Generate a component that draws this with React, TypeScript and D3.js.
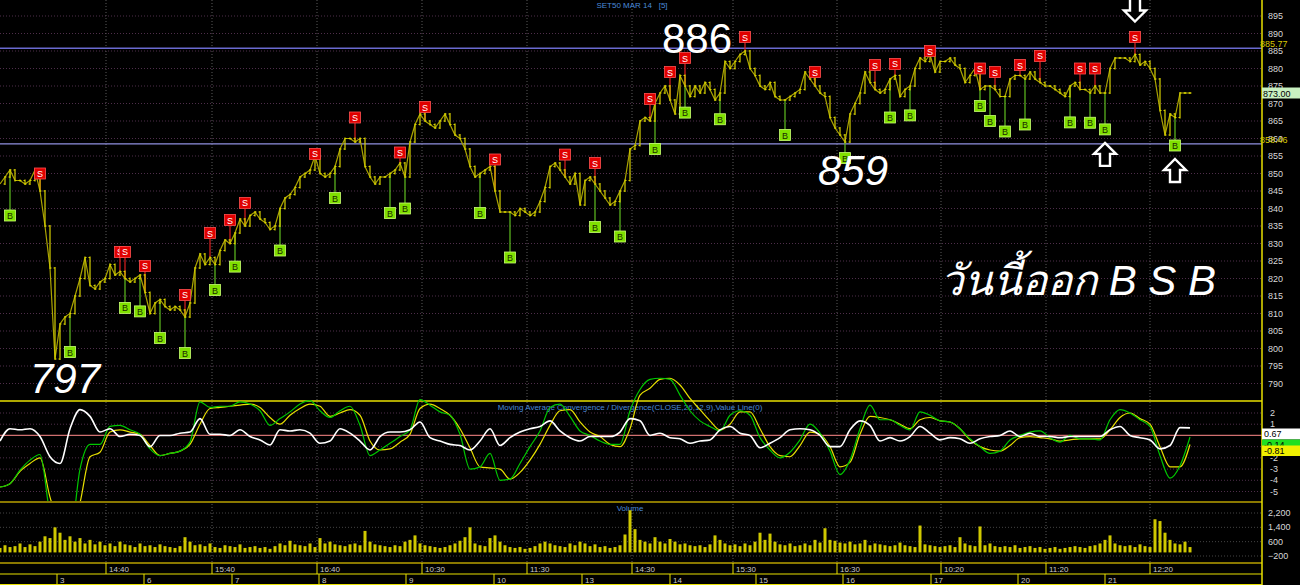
import * as d3 from 'd3'

// 5-minute closes of SET50 MAR 14
const closes = [
  847, 849, 851, 848, 848, 847, 848, 851, 845, 835,
  823, 797, 807, 809, 810, 815, 820, 826, 818, 817,
  819, 820, 824, 821, 822, 820, 819, 820, 821, 816,
  810, 813, 814, 812, 811, 812, 811, 809, 813, 823,
  827, 824, 826, 824, 828, 831, 830, 833, 837, 835,
  838, 839, 837, 836, 834, 835, 840, 843, 844, 846,
  849, 850, 851, 855, 850, 849, 850, 852, 857, 860,
  860, 859, 860, 852, 849, 847, 849, 849, 850, 851,
  853, 849, 859, 864, 867, 865, 864, 863, 865, 867,
  864, 861, 860, 857, 852, 849, 850, 851, 852, 845,
  839, 839, 839, 838, 840, 839, 838, 839, 842, 846,
  852, 853, 851, 849, 847, 850, 841, 848, 849, 847,
  845, 843, 841, 842, 845, 848, 857, 858, 865, 866,
  865, 870, 873, 875, 871, 867, 878, 875, 872, 875,
  873, 876, 874, 871, 873, 882, 880, 882, 884, 885,
  880, 878, 875, 874, 876, 872, 871, 871, 872, 873,
  874, 879, 877, 875, 873, 872, 866, 863, 861, 859,
  867, 870, 873, 879, 876, 874, 873, 874, 877, 878,
  872, 874, 875, 880, 883, 882, 884, 879, 882, 882,
  883, 881, 880, 876, 878, 880, 874, 875, 875, 874,
  872, 872, 877, 878, 878, 877, 879, 877, 876, 875,
  875, 874, 873, 872, 875, 876, 874, 874, 873, 875,
  873, 873, 880, 883, 883, 883, 882, 884, 881, 882,
  880, 877, 868, 861, 867, 866, 873, 873, 873,
]

const volumes = [
  250, 400, 300, 350, 500, 300, 450, 350, 600, 900,
  800, 1400, 1100, 700, 900, 600, 800, 500, 700, 450,
  600, 400, 500, 350, 600, 450, 400, 300, 500, 350,
  400, 300, 450, 350, 300, 250, 350, 850, 600, 400,
  450, 350, 500, 300, 250, 400, 350, 300, 450, 250,
  300, 350, 250, 300, 200, 350, 500, 400, 650, 450,
  400, 350, 500, 300, 800, 500, 600, 450, 400, 350,
  450, 500, 400, 1200, 600, 450, 400, 350, 300, 400,
  350, 600, 700, 950, 500, 400, 350, 300, 250, 300,
  400, 500, 650, 850, 1400, 500, 400, 350, 800, 950,
  600, 400, 300, 250, 300, 200, 250, 350, 500, 600,
  500, 400, 350, 300, 500, 400, 600, 500, 350, 450,
  300, 350, 250, 300, 400, 1000, 2350, 1300, 700, 600,
  500, 850, 600, 500, 750, 600, 450, 500, 400, 350,
  400, 300, 450, 950, 700, 500, 400, 450, 350, 500,
  400, 600, 1100, 700, 1050, 600, 450, 400, 500, 350,
  400, 500, 400, 700, 550, 1350, 700, 650, 550, 500,
  600, 450, 500, 700, 400, 500, 450, 400, 350, 400,
  550, 400, 350, 300, 1500, 450, 400, 350, 300, 350,
  400, 300, 850, 500, 400, 350, 1450, 400, 500, 350,
  300, 350, 300, 400, 250, 300, 350, 250, 300, 200,
  250, 300, 200, 250, 300, 350, 300, 250, 350, 400,
  500, 700, 950, 500, 400, 350, 400, 300, 450, 350,
  300, 1850, 1750, 1100, 700, 500, 450, 600, 300,
]

// MACD(26,12,9) sampled every second bar
const macdLine = [
  -4.6, -4.3, -3.1, -2.2, -1.7, -7, -9, -9, -3.0, -0.8,
  -0.8, 0.8, 0.9, 0.5, 0.1, -1.2, -1.8, -1.6, -1.4, -0.6,
  3.0, 2.5, 2.6, 2.6, 3.0, 2.8, 2.2, 0.9, 1.5, 2.1,
  2.8, 3.1, 2.2, 1.6, 2.2, 2.6, 0.9, -1.8, -1.3, -0.7,
  -0.1, 0.5, 3.2, 2.7, 2.1, 1.8, 0.1, -3.0, -2.8, -1.6,
  -4.0, -3.9, -2.5, -1.0, 0.4, 2.5, 2.8, 1.7, 0.4, 0.0,
  -0.5, -0.8, -0.8, 2.2, 4.1, 5.0, 5.1, 5.0, 3.6, 2.2,
  1.3, 0.8, 0.4, 1.8, 2.2, 1.8, -0.2, -1.3, -2.0, -1.5,
  -0.4, 1.0, 0.2, -1.4, -3.5, -2.2, 0.6, 2.7, 1.4, 1.4,
  0.9, 0.5, 2.1, 1.8, 1.3, 1.2, 0.6, -0.3, -1.0, -1.6,
  -1.4, -0.4, 0.0, 0.3, 0.4, -0.2, -0.6, 0.0, -0.3, -0.3,
  -0.4, 1.4, 2.3, 2.0, 1.4, 0.8, -1.8, -3.8, -2.7, -0.14,
]

const signalLine = [
  -4.6, -4.3, -3.2, -2.5, -2.0, -5.5, -8, -9, -6, -1.9,
  -1.5, 0.3, 0.5, 0.3, 0.1, -0.9, -1.8, -1.6, -1.4, -0.8,
  1.0, 2.4, 2.5, 2.6, 2.7, 2.8, 2.5, 1.6, 1.0, 1.8,
  2.4, 2.8, 2.6, 1.7, 2.0, 2.3, 1.8, -0.5, -1.3, -1.2,
  -0.6, 0.1, 2.4, 2.8, 2.4, 1.8, 0.6, -1.1, -2.8, -2.9,
  -3.0, -3.9, -3.3, -2.2, -0.8, 0.9, 2.2, 2.3, 1.2, 0.3,
  -0.1, -0.8, -1.0, 0.6, 3.6, 4.2, 5.0, 5.1, 4.5, 3.3,
  2.3, 1.3, 0.5, 1.0, 2.1, 2.1, 0.6, -1.0, -1.8, -1.9,
  -0.9, 0.3, 0.1, -1.0, -2.8, -2.4, 0.1, 1.7, 1.6, 1.4,
  1.0, 0.6, 1.4, 1.6, 1.3, 1.2, 0.6, -0.4, -1.0, -1.3,
  -1.4, -0.9, -0.2, -0.1, -0.2, -0.3, -0.5, -0.4, -0.3, -0.3,
  -0.3, 0.5, 1.6, 2.0, 1.5, 1.0, -1.0, -2.8, -2.8, -0.81,
]

const histLine = [
  -0.5, 0.6, 0.5, 0.6, -0.1, -1.9, -2.5, 0.6, 2.3, 1.7,
  0.3, 0.6, -0.1, 0.1, 0.0, -1.0, 0.0, 0.0, 0.2, 0.3,
  1.5, 0.1, 0.1, 0.0, 0.5, -0.1, -0.4, -0.85, 0.5, 0.4,
  0.5, 0.2, -0.7, -0.5, 0.6, 0.2, -0.5, -1.3, -0.1, 0.3,
  0.3, 0.5, 1.2, -0.2, -0.5, -0.8, -0.9, -1.3, -0.5, 0.6,
  -0.9, -0.2, 0.3, 0.6, 0.8, 1.3, 0.4, -0.2, -0.5, -0.1,
  -0.1, -0.1, 0.3, 1.5, 1.3, 0.0, 0.2, -0.2, -0.3, -0.7,
  -0.5, -0.4, 0.5, 0.8, 0.2, 0.0, -1.1, -0.7, -0.2, 0.5,
  0.6, 0.5, 0.0, -1.0, -1.0, 0.5, 1.3, 0.9, -0.5, -0.2,
  -0.5, -0.1, 0.8, 0.2, -0.4, -0.2, -0.3, -0.7, -0.3, -0.1,
  0.0, 0.4, -0.1, 0.2, -0.1, -0.1, -0.2, -0.1, -0.1, -0.1,
  -0.1, 0.5, 0.8, 0.0, -0.2, -0.4, -1.2, -0.9, 0.7, 0.67,
]

// signal flags: bar index and the price level of the flag
const sellSignals = [
  { i: 8, v: 850 }, { i: 24, v: 827.6 }, { i: 25, v: 827.6 }, { i: 29, v: 823.6 },
  { i: 37, v: 815.3 }, { i: 42, v: 833 }, { i: 46, v: 836.7 }, { i: 49, v: 841.6 },
  { i: 63, v: 855.6 }, { i: 71, v: 866 }, { i: 80, v: 856 }, { i: 85, v: 869 },
  { i: 99, v: 854 }, { i: 113, v: 855.4 }, { i: 119, v: 853 }, { i: 130, v: 871.3 },
  { i: 134, v: 879 }, { i: 137, v: 883 }, { i: 149, v: 889 }, { i: 163, v: 879 },
  { i: 175, v: 881 }, { i: 179, v: 881.3 }, { i: 186, v: 885 }, { i: 196, v: 880 },
  { i: 199, v: 879 }, { i: 204, v: 881 }, { i: 208, v: 883.6 }, { i: 216, v: 880 },
  { i: 219, v: 880 }, { i: 227, v: 889 },
]

const buySignals = [
  { i: 2, v: 838 }, { i: 14, v: 799 }, { i: 25, v: 811.6 }, { i: 28, v: 810.6 },
  { i: 32, v: 803 }, { i: 37, v: 798.7 }, { i: 43, v: 816.7 }, { i: 47, v: 823.4 },
  { i: 56, v: 828 }, { i: 67, v: 843 }, { i: 78, v: 838.7 }, { i: 81, v: 840 },
  { i: 96, v: 838.7 }, { i: 102, v: 826 }, { i: 119, v: 834.7 }, { i: 124, v: 832 },
  { i: 131, v: 857 }, { i: 137, v: 867.4 }, { i: 144, v: 865.5 }, { i: 157, v: 861 },
  { i: 169, v: 854.4 }, { i: 178, v: 866 }, { i: 182, v: 866.6 }, { i: 196, v: 869.3 },
  { i: 198, v: 865 }, { i: 201, v: 862 }, { i: 205, v: 864 }, { i: 214, v: 864.6 },
  { i: 218, v: 864.5 }, { i: 221, v: 862.6 }, { i: 235, v: 858 },
]

const arrowMarks = [
  { i: 227, v: 889, dir: 'down' },
  { i: 221, v: 862.6, dir: 'up' },
  { i: 235, v: 858, dir: 'up' },
]

const timeTicks = [
  { label: '14:40', i: 21.2 }, { label: '15:40', i: 42.4 }, { label: '16:40', i: 63.4 },
  { label: '10:30', i: 84.4 }, { label: '11:30', i: 105.4 }, { label: '14:30', i: 126.4 },
  { label: '15:30', i: 146.6 }, { label: '16:30', i: 167.4 }, { label: '10:20', i: 188.2 },
  { label: '11:20', i: 209.2 }, { label: '12:20', i: 230 },
]

const dayTicks = [
  { label: '3', i: 11.4 }, { label: '6', i: 28.8 }, { label: '7', i: 46.4 },
  { label: '8', i: 63.8 }, { label: '9', i: 81.2 }, { label: '10', i: 98.8 },
  { label: '13', i: 116.4 }, { label: '14', i: 134 }, { label: '15', i: 151.2 },
  { label: '16', i: 168.6 }, { label: '17', i: 186.2 }, { label: '20', i: 203.6 },
  { label: '21', i: 221 },
]

const priceTicks = d3.range(790, 896, 5)
const macdTicks = [2, 1, 0, -1, -2, -3, -4, -5]
const volumeTicks = [2200, 1400, 600, -200]

const resistance = 885.77
const support = 858.46
const lastPrice = 873.0
const notes = [
  { text: '886', i: 132.4, v: 884.4, italic: false },
  { text: '859', i: 163.6, v: 846.8, italic: true },
  { text: '797', i: 6, v: 787.4, italic: true },
]

const W = 1300
const H = 585
const AXIS_X = 1262
const FONT = '"Liberation Sans", Arial, sans-serif'

export default function App() {
  const x = d3.scaleLinear().domain([0, AXIS_X / 5]).range([0, AXIS_X])
  const yP = d3.scaleLinear().domain([790, 895]).range([383.5, 16])
  const yM = d3.scaleLinear().domain([-5, 2]).range([491.5, 413])
  const yV = d3.scaleLinear().domain([-200, 2200]).range([556, 513])

  const mx = (j: number) => x(j * 2)
  const line = (arr: number[]) =>
    d3.line<number>().x((_, j) => mx(j)).y(d => yM(d)).curve(d3.curveMonotoneX)(arr) || ''

  const priceLine = d3.line<number>().x((_, i) => x(i)).y(d => yP(d))(closes) || ''

  const BOX = 11
  const gridColor = '#4e2e4a'

  const arrowPath = (cx: number, tipY: number, dir: string) => {
    const s = dir === 'up' ? 1 : -1
    const pts = [
      [cx, tipY], [cx + 11, tipY + 11 * s], [cx + 5, tipY + 11 * s], [cx + 5, tipY + 23 * s],
      [cx - 5, tipY + 23 * s], [cx - 5, tipY + 11 * s], [cx - 11, tipY + 11 * s],
    ]
    return 'M' + pts.map(p => p.join(',')).join('L') + 'Z'
  }

  return (
    <svg width={W} height={H} style={{ position: 'absolute', left: 0, top: 0, background: '#000', fontFamily: FONT }}>
      <defs>
        <clipPath id="macdClip">
          <rect x={0} y={0} width={AXIS_X} height={502} />
        </clipPath>
      </defs>
      <rect x={0} y={0} width={W} height={H} fill="#000" />

      {/* horizontal grid - price */}
      {priceTicks.map(t => (
        <line key={'pg' + t} x1={0} x2={AXIS_X} y1={yP(t)} y2={yP(t)} stroke={gridColor} strokeDasharray="1,2" />
      ))}
      {macdTicks.filter(t => t !== 0).map(t => (
        <line key={'mg' + t} x1={0} x2={AXIS_X} y1={yM(t)} y2={yM(t)} stroke={gridColor} strokeDasharray="1,2" />
      ))}
      {volumeTicks.map(t => (
        <line key={'vg' + t} x1={0} x2={AXIS_X} y1={yV(t)} y2={yV(t)} stroke="#444" strokeDasharray="1,2" />
      ))}
      {/* vertical grid */}
      {timeTicks.map(t => (
        <line key={'vt' + t.label} x1={x(t.i)} x2={x(t.i)} y1={0} y2={563} stroke="#5a5a5a" strokeDasharray="1,2" />
      ))}

      {/* support / resistance */}
      <line x1={0} x2={AXIS_X} y1={yP(resistance)} y2={yP(resistance)} stroke="#6a6ad0" strokeWidth={1.5} />
      <line x1={0} x2={AXIS_X} y1={yP(support)} y2={yP(support)} stroke="#9090e0" strokeWidth={1.2} />

      <text x={632} y={8} fill="#4a8ad8" fontSize={8} textAnchor="middle" style={{ whiteSpace: 'pre' }}>
        {'SET50 MAR 14   [5]'}
      </text>

      {/* stems */}
      {sellSignals.map((s, k) => {
        const top = yP(s.v) + BOX / 2
        const py = yP(closes[s.i])
        return py > top ? (
          <line key={'ss' + k} x1={x(s.i)} x2={x(s.i)} y1={top} y2={py} stroke="#e02020" strokeWidth={1.2} />
        ) : null
      })}
      {buySignals.map((b, k) => {
        const bot = yP(b.v) - BOX / 2
        const py = yP(closes[b.i])
        return py < bot ? (
          <line key={'bs' + k} x1={x(b.i)} x2={x(b.i)} y1={bot} y2={py} stroke="#60c020" strokeWidth={1.2} />
        ) : null
      })}

      {/* price bars */}
      <path d={priceLine} fill="none" stroke="#aaa400" strokeWidth={1.2} />
      {closes.map((c, i) => {
        if (i === 0) return null
        const o = closes[i - 1]
        const cx = x(i)
        return (
          <g key={'b' + i} stroke="#d8d200" strokeWidth={1.2}>
            <line x1={cx} x2={cx} y1={yP(Math.max(o, c)) - 1} y2={yP(Math.min(o, c)) + 1} />
            <line x1={cx - 1.5} x2={cx} y1={yP(o)} y2={yP(o)} />
            <line x1={cx} x2={cx + 1.5} y1={yP(c)} y2={yP(c)} />
          </g>
        )
      })}

      {/* flags */}
      {sellSignals.map((s, k) => (
        <g key={'sf' + k}>
          <rect x={x(s.i) - BOX / 2} y={yP(s.v) - BOX / 2} width={BOX} height={BOX} fill="#e00000" stroke="#ff5050" strokeWidth={0.8} />
          <text x={x(s.i)} y={yP(s.v) + 3.5} fill="#fff" fontSize={9} textAnchor="middle">S</text>
        </g>
      ))}
      {buySignals.map((b, k) => (
        <g key={'bf' + k}>
          <rect x={x(b.i) - BOX / 2} y={yP(b.v) - BOX / 2} width={BOX} height={BOX} fill="#80e000" stroke="#c8ff70" strokeWidth={0.8} />
          <text x={x(b.i)} y={yP(b.v) + 3.5} fill="#1a2a00" fontSize={9} textAnchor="middle">B</text>
        </g>
      ))}

      {/* annotations */}
      {arrowMarks.map((a, k) => {
        const tip = a.dir === 'up' ? yP(a.v) + BOX / 2 + 8 : yP(a.v) - BOX / 2 - 10
        return <path key={'ar' + k} d={arrowPath(x(a.i), tip, a.dir)} fill="#000" stroke="#fff" strokeWidth={2.4} strokeLinejoin="miter" />
      })}
      {notes.map(n => (
        <text key={n.text} x={x(n.i)} y={yP(n.v)} fill="#fff" fontSize={42} fontStyle={n.italic ? 'italic' : 'normal'}>
          {n.text}
        </text>
      ))}
      <text x={940} y={295} fill="#fff" fontSize={42} fontStyle="italic">วันนี้ออก B S B</text>

      {/* MACD panel */}
      <line x1={0} x2={AXIS_X} y1={401} y2={401} stroke="#e8e000" strokeWidth={1.5} />
      <line x1={0} x2={AXIS_X} y1={yM(0)} y2={yM(0)} stroke="#d07070" strokeWidth={1.3} />
      <text x={630} y={410} fill="#4a8ad8" fontSize={8} textAnchor="middle">
        Moving Average Convergence / Divergence(CLOSE,26,12,9),Value Line(0)
      </text>
      <g clipPath="url(#macdClip)" fill="none">
        <path d={line(signalLine)} stroke="#e8e000" strokeWidth={1.2} />
        <path d={line(macdLine)} stroke="#00c800" strokeWidth={1.2} />
        <path d={line(histLine)} stroke="#ffffff" strokeWidth={1.6} />
      </g>

      {/* volume panel */}
      <line x1={0} x2={AXIS_X} y1={502} y2={502} stroke="#8a7800" strokeWidth={2} />
      <text x={630} y={511} fill="#4a8ad8" fontSize={8} textAnchor="middle">Volume</text>
      {volumes.map((v, i) => (
        <rect key={'v' + i} x={x(i) - 1.5} y={yV(v)} width={3} height={yV(0) - yV(v)} fill="#cfc800" />
      ))}

      {/* time axis */}
      <line x1={0} x2={AXIS_X} y1={563} y2={563} stroke="#8a7800" strokeWidth={2} />
      <line x1={0} x2={AXIS_X} y1={574} y2={574} stroke="#e8e000" strokeWidth={1.2} />
      <line x1={0} x2={AXIS_X} y1={584.5} y2={584.5} stroke="#e8e000" strokeWidth={1} />
      {timeTicks.map(t => (
        <g key={'tt' + t.label}>
          <line x1={x(t.i)} x2={x(t.i)} y1={563} y2={574} stroke="#e8e000" />
          <text x={x(t.i) + 3} y={572} fill="#c8c8c8" fontSize={8}>{t.label}</text>
        </g>
      ))}
      {dayTicks.map(t => (
        <g key={'dt' + t.label}>
          <line x1={x(t.i)} x2={x(t.i)} y1={574} y2={585} stroke="#e8e000" />
          <text x={x(t.i) + 3} y={583} fill="#c8c8c8" fontSize={8}>{t.label}</text>
        </g>
      ))}

      {/* right axis */}
      <rect x={AXIS_X} y={0} width={W - AXIS_X} height={H} fill="#000" />
      <line x1={AXIS_X} x2={AXIS_X} y1={0} y2={H} stroke="#e8e000" strokeWidth={1.5} />
      {priceTicks.map(t => (
        <text key={'pl' + t} x={1268} y={yP(t) + 3} fill="#d8d8d8" fontSize={9}>{t}</text>
      ))}
      <text x={1260} y={yP(resistance) - 1} fill="#d8c800" fontSize={9}>{resistance.toFixed(2)}</text>
      <text x={1260} y={yP(support) - 1} fill="#d8c800" fontSize={9}>{support.toFixed(2)}</text>
      <rect x={AXIS_X} y={yP(lastPrice) - 5.5} width={W - AXIS_X} height={11} fill="#c8f0c0" />
      <text x={1263} y={yP(lastPrice) + 3.5} fill="#000" fontSize={9}>{lastPrice.toFixed(2)}</text>

      {macdTicks.map(t => (
        <text key={'ml' + t} x={1270} y={yM(t) + 3} fill="#d8d8d8" fontSize={9}>{t}</text>
      ))}
      <rect x={AXIS_X} y={428.5} width={W - AXIS_X} height={11} fill="#ffffff" />
      <text x={1264} y={437} fill="#000" fontSize={9}>{histLine[histLine.length - 1].toFixed(2)}</text>
      <rect x={AXIS_X} y={439.5} width={W - AXIS_X} height={10} fill="#20e020" />
      <text x={1264} y={447.5} fill="#000" fontSize={9}>{macdLine[macdLine.length - 1].toFixed(2)}</text>
      <rect x={AXIS_X} y={445.5} width={W - AXIS_X} height={10.5} fill="#f0f000" />
      <text x={1264} y={454} fill="#000" fontSize={9}>{signalLine[signalLine.length - 1].toFixed(2)}</text>

      {volumeTicks.map(t => (
        <text key={'vl' + t} x={1268} y={yV(t) + 3} fill="#d8d8d8" fontSize={9}>{d3.format(',')(t)}</text>
      ))}
    </svg>
  )
}
